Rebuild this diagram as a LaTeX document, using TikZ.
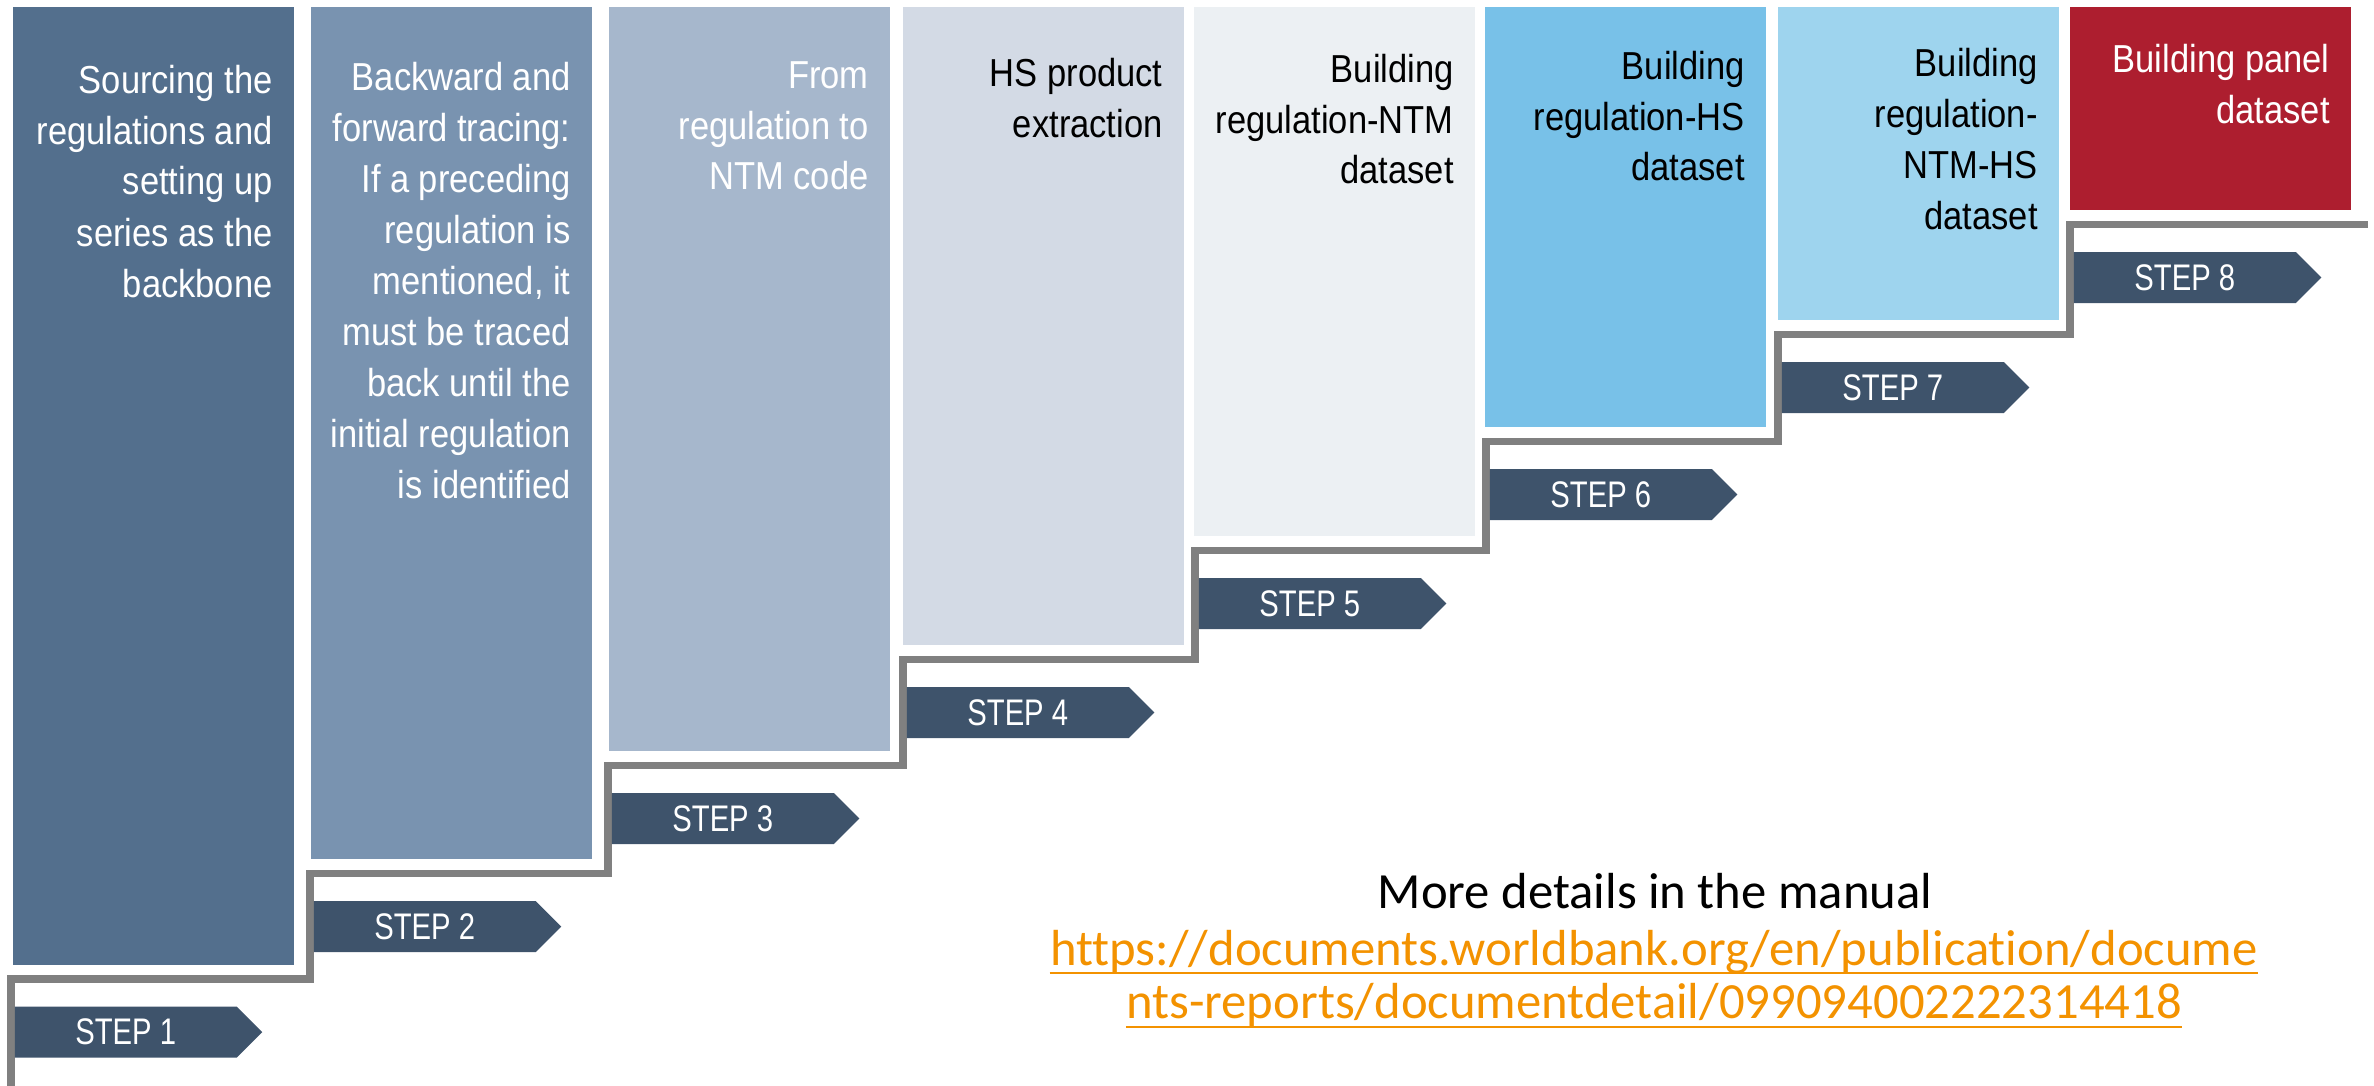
\documentclass[tikz,border=0pt]{standalone}
\usepackage{fontspec}
\setmainfont{Liberation Sans}[FakeStretch=0.885]
\newfontfamily\stepfont{Liberation Sans}[FakeStretch=0.79]
\newfontfamily\calib{Carlito}[Ligatures=NoCommon]
\definecolor{bA}{HTML}{536F8D}
\definecolor{bB}{HTML}{7993B0}
\definecolor{bC}{HTML}{A6B7CC}
\definecolor{bD}{HTML}{D3DAE5}
\definecolor{bE}{HTML}{ECF0F3}
\definecolor{bF}{HTML}{78C1E8}
\definecolor{bG}{HTML}{9ED4EE}
\definecolor{bH}{HTML}{AD1E2F}
\definecolor{stepc}{HTML}{3E536B}
\definecolor{linegray}{HTML}{808080}
\definecolor{urlc}{HTML}{F39200}
\begin{document}
\begin{tikzpicture}[x=0.5pt,y=-0.5pt,
  stepbox/.style={anchor=north west, inner sep=0pt, minimum width=140.5pt},
  boxtxt/.style={anchor=base east, inner sep=0pt, align=right, font=\fontsize{19.5pt}{25.5pt}\selectfont},
  steptxt/.style={text=white, inner sep=0pt, font=\stepfont\fontsize{18.5pt}{20pt}\selectfont},
  stair/.style={draw=linegray, line width=3.75pt, line join=miter},
  manual/.style={anchor=base, inner sep=0pt, font=\calib\fontsize{25.35pt}{27.5pt}\selectfont},
  urlline/.style={manual, text=urlc}]
\useasboundingbox (0,0) rectangle (2374,1086);

% boxes
\node[stepbox, fill=bA, minimum height=478.75pt] (box1) at (13,7) {};
\node[stepbox, fill=bB, minimum height=426pt] (box2) at (311,7) {};
\node[stepbox, fill=bC, minimum height=372pt] (box3) at (609,7) {};
\node[stepbox, fill=bD, minimum height=319pt] (box4) at (903,7) {};
\node[stepbox, fill=bE, minimum height=264.5pt] (box5) at (1194,7) {};
\node[stepbox, fill=bF, minimum height=210pt] (box6) at (1485,7) {};
\node[stepbox, fill=bG, minimum height=156.5pt] (box7) at (1778,7) {};
\node[stepbox, fill=bH, minimum height=101.5pt] (box8) at (2070,7) {};

% box texts (anchor = baseline of the last line)
\node[boxtxt, text=white] (t1) at (273,297) {Sourcing the\\regulations and\\setting up\\series as the\\backbone};
\node[boxtxt, text=white] (t2) at (571,498) {Backward and\\forward tracing:\\If a preceding\\regulation is\\mentioned, it\\must be traced\\back until the\\initial regulation\\is identified};
\node[boxtxt, text=white] (t3) at (869,190) {From\\regulation to\\NTM code};
\node[boxtxt, text=black] (t4) at (1163,138) {HS product\\extraction};
\node[boxtxt, text=black] (t5) at (1454,184) {Building\\regulation-NTM\\dataset};
\node[boxtxt, text=black] (t6) at (1745,181) {Building\\regulation-HS\\dataset};
\node[boxtxt, text=black] (t7) at (2038,229) {Building\\regulation-\\NTM-HS\\dataset};
\node[boxtxt, text=white] (t8) at (2330,124) {Building panel\\dataset};

% staircase line
\draw[stair] (11,1092) -- (11,979) -- (310,979) -- (310,873.5) -- (608,873.5) -- (608,765.5)
  -- (903,765.5) -- (903,659.5) -- (1195,659.5) -- (1195,550.5) -- (1486,550.5) -- (1486,441.5)
  -- (1778,441.5) -- (1778,334.5) -- (2070,334.5) -- (2070,224.5) -- (2368,224.5);

% step arrows
\foreach \i/\x/\y in {1/11/979, 2/310/873.5, 3/608/765.5, 4/903/659.5, 5/1195/550.5, 6/1486/441.5, 7/1778/334.5, 8/2070/224.5} {
  \fill[stepc] (\x+3.75,\y+27.5) -- ++(222,0) -- ++(25.5,25.5) -- ++(-25.5,25.5) -- ++(-222,0) -- cycle;
  \node[steptxt] (step\i) at (\x+3.75+111,\y+53) {STEP \i};
}

% manual reference
\node[manual] (more) at (1655,908) {More details in the manual};
\node[urlline] (u1) at (1654,965) {https://documents.worldbank.org/en/publication/docume};
\node[urlline] (u2) at (1654,1018) {nts-reports/documentdetail/099094002222314418};
\draw[urlc, line width=1.4pt] ([yshift=-4pt]u1.base west) -- ([yshift=-4pt]u1.base east);
\draw[urlc, line width=1.4pt] ([yshift=-4.5pt]u2.base west) -- ([yshift=-4.5pt]u2.base east);
\end{tikzpicture}
\end{document}
